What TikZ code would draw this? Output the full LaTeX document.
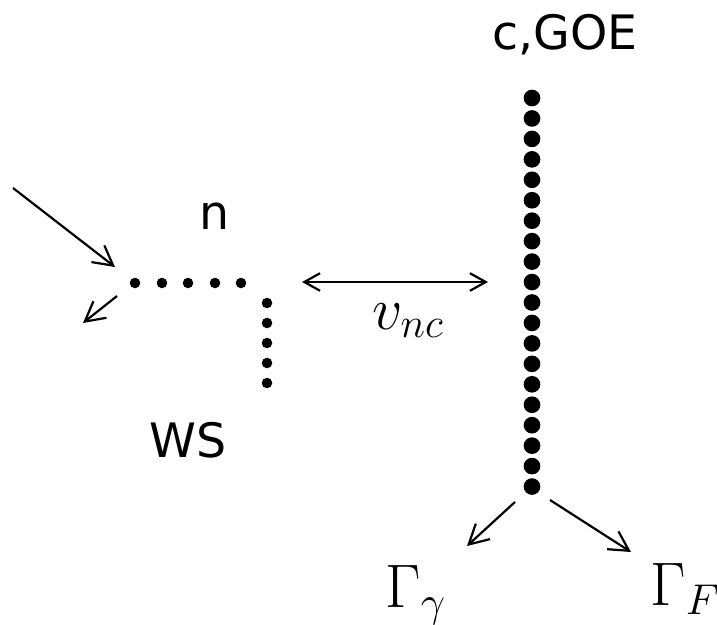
\RequirePackage{fix-cm}
\documentclass[tikz,border=0pt]{standalone}
\usepackage{fontspec}
\setsansfont{DejaVu Sans}
\usetikzlibrary{arrows.meta}
\begin{document}
\begin{tikzpicture}[x=0.02cm,y=-0.02cm,
  sdot/.style={circle,fill=black,inner sep=0pt,minimum size=6pt},
  bdot/.style={circle,fill=black,inner sep=0pt,minimum size=9.5pt},
  conn/.style={line width=1.25pt,-{Straight Barb[length=11pt,width=12pt,line width=1.25pt]}},
  biconn/.style={line width=1.25pt,{Straight Barb[length=9pt,width=10pt,line width=1.25pt]}-{Straight Barb[length=9pt,width=10pt,line width=1.25pt]}},
  lab/.style={font=\sffamily\fontsize{27}{30}\selectfont,inner sep=0pt},
  mlab/.style={inner sep=0pt,anchor=base west,font=\fontsize{34}{38}\selectfont},
  glab/.style={inner sep=0pt,anchor=base west,font=\fontsize{35}{40}\selectfont}]
\useasboundingbox (0,0) rectangle (717,625);

% horizontal row of the WS chain
\foreach \i/\x in {1/135,2/162,3/188,4/215,5/241}
  \node[sdot] (h\i) at (\x,283) {};
% vertical branch of the WS chain
\foreach \i/\y in {1/303,2/323,3/343,4/363,5/383}
  \node[sdot] (w\i) at (267,\y) {};
% long continuum chain
\foreach \i in {1,...,20}
  \node[bdot] (c\i) at (532,{98+(\i-1)*20.45}) {};

% labels
\node[lab] (goe) at (565,35) {c,GOE};
\node[lab] (nlab) at (215,216) {n};
\node[lab] (ws) at (188,440) {WS};
\node[mlab] (vnc) at (372,329) {$v_{nc}$};
\node[glab] (gg) at (385,607) {$\Gamma_\gamma$};
\node[glab] (gf) at (650,605) {$\Gamma_F$};

% in/out channels at the WS entrance
\coordinate (inS) at (13,188);
\coordinate (inE) at (115,267);
\coordinate (outS) at (117,296);
\coordinate (outE) at (83,323);
\draw[conn] (inS) -- (inE);
\draw[conn] (outS) -- (outE);

% coupling between the chains
\coordinate (bL) at (302,282);
\coordinate (bR) at (488,282);
\draw[biconn] (bL) -- (bR);

% decay channels of the continuum
\coordinate (gS) at (515,502);
\coordinate (gE) at (467,546);
\coordinate (fS) at (550,500);
\coordinate (fE) at (631,552);
\draw[conn] (gS) -- (gE);
\draw[conn] (fS) -- (fE);
\end{tikzpicture}
\end{document}
